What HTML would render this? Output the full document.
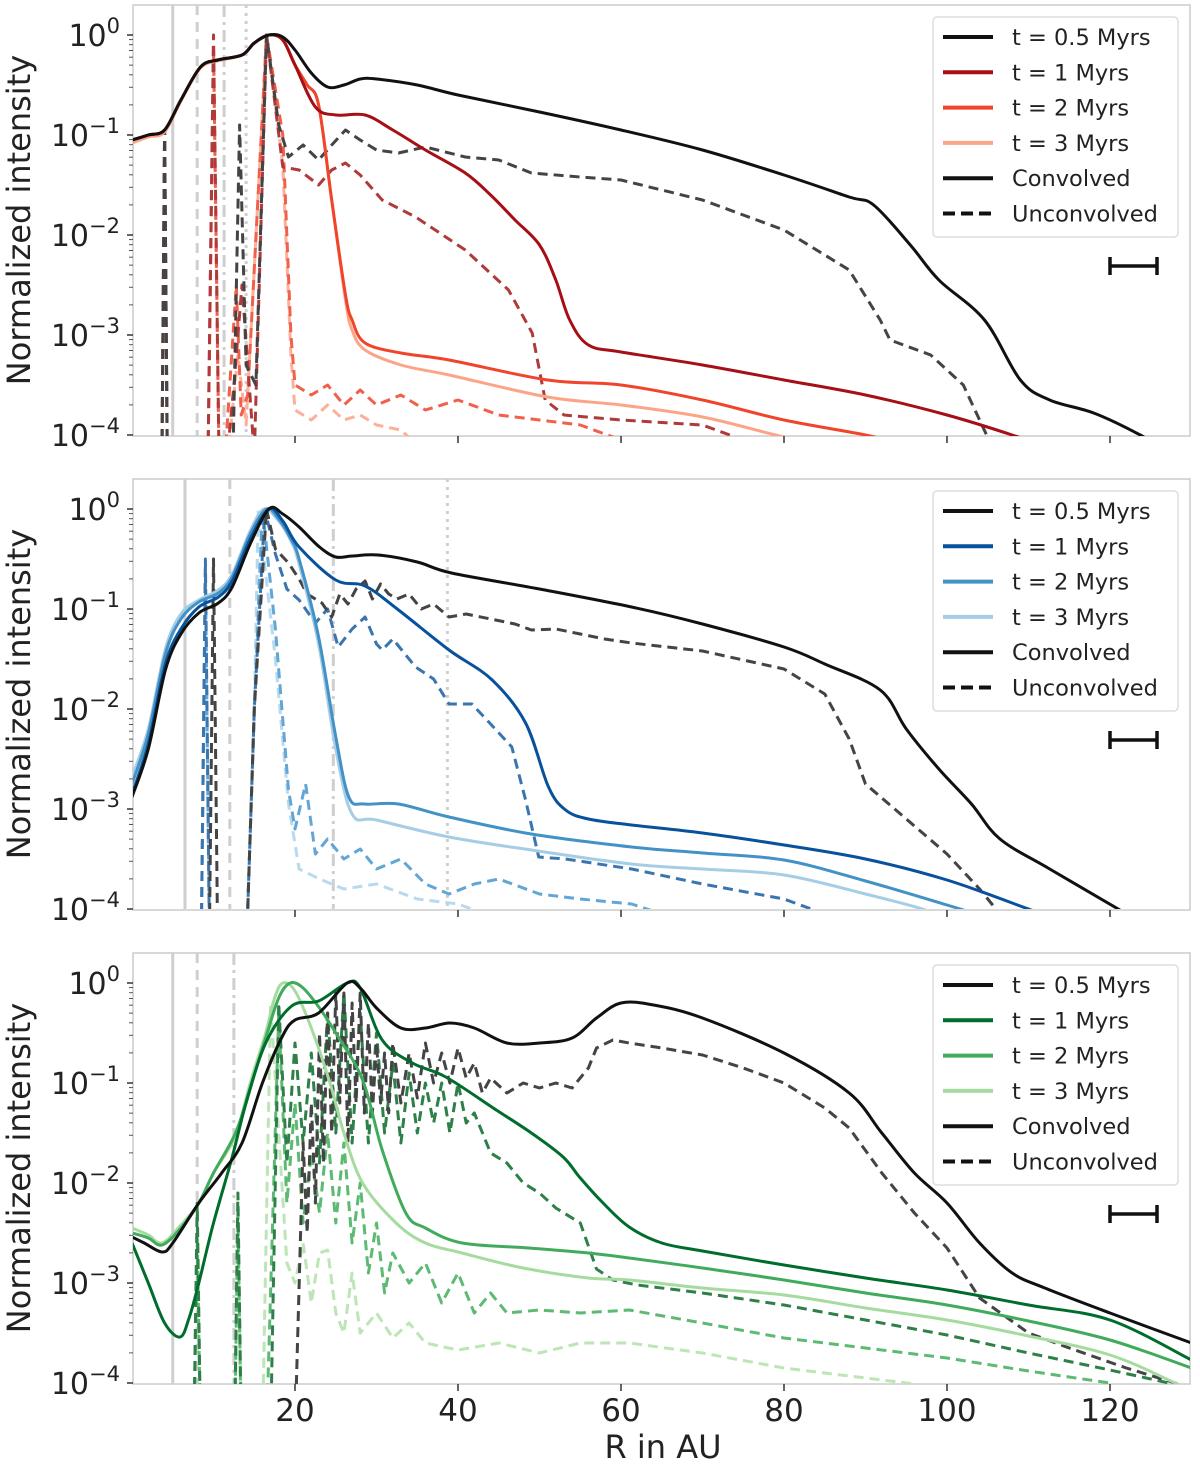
<!DOCTYPE html>
<html><head><meta charset="utf-8">
<style>
html,body{margin:0;padding:0;background:#fff;}
svg text{font-family:"DejaVu Sans","Liberation Sans",sans-serif;fill:#222;}
</style></head>
<body>
<svg id="chart" width="1200" height="1474" viewBox="0 0 1200 1474" xmlns="http://www.w3.org/2000/svg">
<defs>
<clipPath id="c0"><rect x="133" y="5" width="1057" height="431"/></clipPath>
<clipPath id="c1"><rect x="133" y="479" width="1057" height="430"/></clipPath>
<clipPath id="c2"><rect x="133" y="953" width="1057" height="431"/></clipPath>
</defs>
<text x="663" y="1458" font-size="32" text-anchor="middle">R in AU</text>
</svg>
<script>
// ---- Data (R in AU, log10 normalized intensity) ----
const xTicks=[20,40,60,80,100,120];
const yTicks=[0,-1,-2,-3,-4];
const timeLabels=["t = 0.5 Myrs","t = 1 Myrs","t = 2 Myrs","t = 3 Myrs"];
// panel 1 (reds)
const p1c0R=[0,2,4,6,8.4,10.5,13.5,15,16.8,18.5,20,22,24,26,28,30,35,40,50,60,70,80,88,91,95.5,99,104.6,109,112.6,118,123.7,130];
const p1c0V=[-1.05,-1.0,-0.95,-0.65,-0.32,-0.25,-0.2,-0.08,0,-0.02,-0.15,-0.38,-0.52,-0.5,-0.44,-0.44,-0.5,-0.6,-0.77,-0.95,-1.15,-1.4,-1.62,-1.7,-2.1,-2.45,-2.85,-3.45,-3.65,-3.78,-4.0,-4.3];
const p1c1R=[0,2,4,6,8.4,10.5,13.5,15,16.8,18.5,20,22.5,25,28.6,32,36,40.9,44,47,50,52,53.7,56,60,70,80,90,100,108,115];
const p1c1V=[-1.05,-1.0,-0.95,-0.65,-0.32,-0.25,-0.2,-0.08,0,-0.05,-0.3,-0.72,-0.8,-0.8,-0.95,-1.15,-1.38,-1.6,-1.85,-2.1,-2.45,-2.85,-3.1,-3.17,-3.3,-3.45,-3.6,-3.8,-4.0,-4.2];
const p1c2R=[0,2,4,6,8.4,10.5,13.5,15,16.8,18.5,20,21.5,22.9,24.5,26.2,27,28.6,33,38.9,51,60,70,80,90,95];
const p1c2V=[-1.05,-1.0,-0.95,-0.65,-0.32,-0.25,-0.2,-0.08,0,-0.05,-0.3,-0.5,-0.7,-1.65,-2.6,-2.85,-3.08,-3.18,-3.25,-3.45,-3.5,-3.65,-3.85,-4.0,-4.1];
const p1c3R=[0,2,4,6,8.4,10.5,13.5,15,16.8,18.5,20,21.5,22.9,24.5,26.2,27,28.6,33,38.9,51,60,70,80,90,95];
const p1c3V=[-1.08,-1.02,-0.97,-0.66,-0.33,-0.26,-0.2,-0.08,0,-0.05,-0.3,-0.5,-0.7,-1.65,-2.65,-2.95,-3.15,-3.3,-3.4,-3.62,-3.7,-3.82,-4.02,-4.2,-4.3];
const p1d0R=[3.6,4,4.4,12.2,13.2,14,15.2,16.5,18,19.2,21,22.9,24.5,26.2,28,30,32.7,36,40.9,45,49,55,60,70,80,88,91.8,93,98,102,106];
const p1d0V=[-5,-0.95,-5,-5,-0.9,-3.3,-3.5,0,-0.9,-1.22,-1.1,-1.25,-1.1,-0.95,-1.05,-1.15,-1.18,-1.12,-1.22,-1.25,-1.38,-1.42,-1.45,-1.65,-1.95,-2.35,-2.85,-3.05,-3.2,-3.5,-4.2];
const p1d1R=[3.6,4,4.4,9.2,10,10.8,12.5,13.5,15,16.5,18.5,20.5,22.9,24.5,26.2,28,30.7,34.8,40.9,46.2,49.1,50.7,53,60,70,75];
const p1d1V=[-5,-0.95,-5,-5,0,-5,-3.5,-2.5,-4.2,0,-1.32,-1.35,-1.5,-1.35,-1.28,-1.4,-1.65,-1.82,-2.15,-2.55,-2.98,-3.65,-3.8,-3.85,-3.9,-4.05];
const p1d2R=[3.6,4,4.4,9.2,10,10.8,12.8,13.4,14.2,16.5,18.5,19.5,20,22,24,26,28,30,33,36,40,45,50,55,60];
const p1d2V=[-5,-0.95,-5,-5,-0.1,-5,-2.5,-3.8,-3.6,0,-1.0,-3.0,-3.5,-3.6,-3.5,-3.7,-3.55,-3.7,-3.6,-3.75,-3.65,-3.8,-3.85,-3.9,-4.05];
const p1d3R=[3.6,4,4.4,9.2,10,10.8,13,14,16.5,18.5,19.5,20,22,24,26,28,30,33,35];
const p1d3V=[-5,-0.95,-5,-5,-0.1,-5,-3.2,-3.9,0,-1.3,-3.2,-3.75,-3.85,-3.7,-3.85,-3.8,-3.9,-3.95,-4.1];
// panel 2 (blues)
const p2c0R=[0,2,4.1,6,8.2,10.6,12.3,14.5,16.8,18.5,20.5,23,25,27,30.2,35,39.2,50,61.3,70,80,85,91.8,95,99,103,106.5,112.6,121,125];
const p2c0V=[-2.88,-2.4,-1.61,-1.25,-1.04,-0.94,-0.78,-0.35,0,-0.05,-0.18,-0.38,-0.48,-0.47,-0.46,-0.53,-0.64,-0.8,-0.98,-1.15,-1.38,-1.55,-1.81,-2.2,-2.6,-2.95,-3.3,-3.6,-4.0,-4.2];
const p2c1R=[0,2,4.1,6,8.2,10.6,12.3,14.5,16.8,18.5,20.5,25,28.6,32.7,38.9,44.2,48.3,51.1,53.2,56,61.3,70,80,90,100,110,115];
const p2c1V=[-2.85,-2.35,-1.55,-1.2,-0.98,-0.88,-0.72,-0.3,0,-0.12,-0.38,-0.71,-0.77,-1.01,-1.41,-1.71,-2.14,-2.78,-3.01,-3.1,-3.16,-3.24,-3.36,-3.5,-3.71,-4.0,-4.15];
const p2c2R=[0,2,4.1,6,8.2,10.6,12.3,14.5,16.5,18,19.5,20.5,22.9,25,26.6,28.5,32.7,38.9,49,61.3,70,80,90,100,104];
const p2c2V=[-2.75,-2.25,-1.45,-1.1,-0.93,-0.84,-0.68,-0.25,0,-0.1,-0.3,-0.5,-1.28,-2.28,-2.88,-2.95,-2.95,-3.08,-3.25,-3.38,-3.44,-3.51,-3.72,-3.96,-4.06];
const p2c3R=[0,2,4.1,6,8.2,10.6,12.3,14.5,16.2,18,19.5,20.5,22.9,25,27,30,38.9,49,61.3,70,80,90,97,100];
const p2c3V=[-2.68,-2.2,-1.4,-1.05,-0.91,-0.81,-0.65,-0.22,0,-0.12,-0.32,-0.55,-1.35,-2.4,-3.05,-3.11,-3.28,-3.41,-3.55,-3.6,-3.66,-3.85,-4.0,-4.1];
const p2d0R=[9.4,10,10.6,14,15,16.5,17.6,19.2,20.5,21.5,23.3,24.5,25.5,26.5,27.5,28.6,29.5,30.5,31.5,32.5,34,35.5,37,38.9,41,44,47,49,52,55,58,61.3,70,80,85,88,90,95,100,104,107];
const p2d0V=[-5,-0.5,-5,-4.5,-2,0,-0.4,-0.54,-0.7,-0.85,-0.94,-1.08,-0.85,-0.95,-0.8,-0.72,-0.9,-0.75,-0.85,-0.9,-0.85,-1.0,-0.95,-1.08,-1.05,-1.1,-1.15,-1.21,-1.2,-1.25,-1.3,-1.34,-1.42,-1.6,-1.85,-2.3,-2.75,-3.1,-3.45,-3.8,-4.1];
const p2d1R=[8.4,9,9.6,14,15,16.3,17.6,19,20.5,22.5,24,25.3,27,28.6,30,30.7,32,34.8,37,38.9,41.7,44,46.6,48.3,49.9,53.2,61.3,70,80,85];
const p2d1V=[-5,-0.5,-5,-4.5,-2,0,-0.45,-0.8,-0.91,-1.14,-1.0,-1.38,-1.2,-1.08,-1.35,-1.41,-1.3,-1.58,-1.7,-1.95,-1.95,-2.15,-2.38,-2.91,-3.48,-3.5,-3.6,-3.75,-3.9,-4.05];
const p2d2R=[8.4,9,9.6,14,15,16,17.6,19.2,20,21.3,22.5,24,26,28,30,33,36,38.9,42,45,50,55,61.3,65];
const p2d2V=[-5,-0.6,-5,-4.5,-2,0,-1.2,-2.81,-3.2,-2.75,-3.45,-3.3,-3.5,-3.4,-3.6,-3.5,-3.75,-3.85,-3.75,-3.7,-3.85,-3.9,-3.95,-4.05];
const p2d3R=[8.4,9,9.6,14,15,15.5,17.6,19.2,20.5,23,26,30,35,40,45];
const p2d3V=[-5,-0.7,-5,-4.5,-2,0,-1.5,-2.95,-3.6,-3.7,-3.8,-3.75,-3.9,-3.95,-4.1];
// panel 3 (greens)
const p3c0R=[0,1.5,3.7,5,8.2,11,13.5,16,18.4,20,22.9,26.4,28,30,33,36,39,42,46,50,54,57,60,64,70,80,88,92,96,100,104,108,112,120,130];
const p3c0V=[-2.54,-2.6,-2.69,-2.6,-2.2,-1.9,-1.6,-1.0,-0.54,-0.37,-0.3,0,-0.05,-0.25,-0.45,-0.45,-0.4,-0.45,-0.6,-0.6,-0.55,-0.35,-0.2,-0.22,-0.35,-0.7,-1.1,-1.5,-1.9,-2.2,-2.6,-2.9,-3.05,-3.3,-3.6];
const p3c1R=[0,2,4,5.9,7,8.2,10,12.3,14,16.4,19.6,22.9,26.4,28,30.7,34.4,38.5,44.7,49,52.9,55,57.8,61,65,70,80,90,100,110,120,130];
const p3c1V=[-2.6,-3.0,-3.4,-3.54,-3.35,-3.0,-2.4,-1.74,-1.2,-0.6,-0.23,-0.18,0,-0.05,-0.57,-0.8,-0.94,-1.27,-1.5,-1.74,-1.95,-2.2,-2.44,-2.6,-2.68,-2.82,-2.95,-3.07,-3.22,-3.37,-3.77];
const p3c2R=[0,2,3.7,6,8.2,10,12.7,14.5,16.4,18,19.4,21,23,25,28.3,30.7,33.6,36,40.5,48.7,56,61,70,80,90,100,110,120,130];
const p3c2V=[-2.5,-2.55,-2.62,-2.45,-2.2,-1.9,-1.5,-1.05,-0.55,-0.15,0,-0.05,-0.25,-0.5,-0.97,-1.67,-2.3,-2.45,-2.6,-2.65,-2.7,-2.75,-2.85,-2.97,-3.1,-3.22,-3.38,-3.57,-3.85];
const p3c3R=[0,2,3.7,6,8.2,10,12.7,14.5,16.4,17.5,18.5,20,22,24.3,26,28.3,32.4,36,40.5,48,56,61,70,80,90,100,110,120,128,132];
const p3c3V=[-2.45,-2.52,-2.6,-2.42,-2.2,-1.9,-1.53,-1.0,-0.5,-0.15,0,-0.08,-0.45,-1.0,-1.5,-2.0,-2.4,-2.6,-2.7,-2.85,-2.95,-2.97,-3.05,-3.12,-3.25,-3.37,-3.53,-3.72,-4.0,-4.15];
const p3d0R=[20,21,21.5,22,22.5,23,23.5,24,24.5,25,25.5,26,26.5,27,27.5,28,28.5,29,29.5,30,30.5,31,31.5,32,33,34,35,36,37,38,39,40,41,42,43,44,46,48,50,52,54,56,57,59,61,65,70,75,80,85,88,92,96,100,104,110,115,122,130];
const p3d0V=[-4.5,-1.6,-2.5,-1.2,-2.2,-0.5,-1.8,-0.3,-1.5,-0.1,-1.2,-0.1,-1.6,-0.2,-1.2,-0.1,-1.3,-0.4,-1.3,-0.6,-1.2,-0.7,-1.3,-0.6,-1.2,-0.7,-1.15,-0.6,-1.0,-0.7,-1.0,-0.65,-0.95,-0.8,-1.1,-0.95,-1.1,-1.0,-1.05,-1.0,-1.05,-0.85,-0.65,-0.57,-0.6,-0.65,-0.72,-0.85,-1.0,-1.25,-1.45,-1.9,-2.3,-2.65,-3.15,-3.5,-3.65,-3.85,-4.05];
const p3d1R=[7.5,8,8.5,12.5,13,13.5,17,18,19,20,21,22,23,24,25,26,27,28,29,30,31,32,33,34,35,36,37,38,39,40,41,42,44,46,48,50,52,55,57,59,62,70,80,90,100,110,120,130];
const p3d1V=[-5,-2.2,-5,-5,-2.1,-5,-4.5,-0.2,-1.8,-0.6,-1.6,-0.7,-1.8,-0.3,-1.5,-0.1,-1.6,-0.3,-1.6,-0.5,-1.5,-0.8,-1.6,-0.9,-1.5,-1.0,-1.4,-1.0,-1.5,-1.0,-1.4,-1.3,-1.7,-1.8,-2.0,-2.1,-2.25,-2.4,-2.86,-2.97,-3.02,-3.1,-3.22,-3.37,-3.52,-3.7,-3.87,-4.05];
const p3d2R=[7.5,8,8.5,12.5,13,13.5,16.5,18,19,20,21,22,23,24,25,26,27,28,29,30,31,32,34,36,38,40,42,44,46,50,55,61,70,80,90,100,110,120];
const p3d2V=[-5,-2.5,-5,-5,-2.3,-5,-4.5,-0.3,-2.2,-1.2,-2.4,-1.7,-2.3,-1.5,-2.4,-1.6,-2.6,-2.0,-2.9,-2.4,-3.1,-2.7,-3.0,-2.8,-3.2,-2.9,-3.3,-3.1,-3.3,-3.27,-3.3,-3.27,-3.4,-3.55,-3.65,-3.75,-3.88,-4.0];
const p3d3R=[7.5,8,8.5,12.5,13,13.5,16,17,18,19,20,21,22,23,24,25,26,27,28,30,32,34,36,40,45,50,55,61,70,80,90,100,110];
const p3d3V=[-5,-2.6,-5,-5,-2.4,-5,-4.5,-0.2,-1.5,-2.8,-3.0,-2.6,-3.2,-2.7,-2.67,-3.3,-3.5,-2.9,-3.5,-3.3,-3.55,-3.4,-3.6,-3.67,-3.6,-3.7,-3.6,-3.6,-3.7,-3.85,-3.95,-4.05,-4.2];

const panels=[
 {top:5,zero:35,clip:'c0',name:'top-panel',cols:['#111111','#a50f15','#f0452a','#fca487'],dcols:['#444444','#b03a3a','#f0604a','#fcb09a'],
  solid:[[p1c0R,p1c0V],[p1c1R,p1c1V],[p1c2R,p1c2V],[p1c3R,p1c3V]],dash:[[p1d0R,p1d0V],[p1d1R,p1d1V],[p1d2R,p1d2V],[p1d3R,p1d3V]],
  vlines:[[5,''],[8,'10,7'],[11.3,'12,5,3,5'],[14,'3,5']]},
 {top:479,zero:509,clip:'c1',name:'middle-panel',cols:['#111111','#08519c','#4292c6','#a6cde6'],dcols:['#444444','#3a75b0','#62a6d6','#b9d9ee'],
  solid:[[p2c0R,p2c0V],[p2c1R,p2c1V],[p2c2R,p2c2V],[p2c3R,p2c3V]],dash:[[p2d0R,p2d0V],[p2d1R,p2d1V],[p2d2R,p2d2V],[p2d3R,p2d3V]],
  vlines:[[6.5,''],[12,'10,7'],[24.7,'12,5,3,5'],[38.7,'3,5']]},
 {top:953,zero:983,clip:'c2',name:'bottom-panel',cols:['#111111','#006d2c','#41ab5d','#a6dba0'],dcols:['#444444','#2e8048','#5cba72','#bde5b6'],
  solid:[[p3c0R,p3c0V],[p3c1R,p3c1V],[p3c2R,p3c2V],[p3c3R,p3c3V]],dash:[[p3d0R,p3d0V],[p3d1R,p3d1V],[p3d2R,p3d2V],[p3d3R,p3d3V]],
  vlines:[[5,''],[8,'10,7'],[12.5,'12,5,3,5']]}
];
const NS='http://www.w3.org/2000/svg';
const svg=document.getElementById('chart');
function xs(r){return 132+8.15*r;}
function mk(tag,attrs,parent){const e=document.createElementNS(NS,tag);for(const k in attrs)e.setAttribute(k,attrs[k]);(parent||svg).appendChild(e);return e;}
function smoothPath(pts){
  let d='M'+pts[0][0].toFixed(1)+','+pts[0][1].toFixed(1);
  for(let i=0;i<pts.length-1;i++){
    const p0=pts[i-1]||pts[i],p1=pts[i],p2=pts[i+1],p3=pts[i+2]||p2;
    const c1=[p1[0]+(p2[0]-p0[0])/6,p1[1]+(p2[1]-p0[1])/6];
    const c2=[p2[0]-(p3[0]-p1[0])/6,p2[1]-(p3[1]-p1[1])/6];
    d+='C'+c1[0].toFixed(1)+','+c1[1].toFixed(1)+' '+c2[0].toFixed(1)+','+c2[1].toFixed(1)+' '+p2[0].toFixed(1)+','+p2[1].toFixed(1);
  }
  return d;
}
panels.forEach((p,pi)=>{
  const ys=v=>p.zero-100*v;
  const bottom=p.top+431;
  const g=mk('g',{});
  
  
  const frame=mk('rect',{x:133,y:p.top,width:1057,height:431,fill:'none',stroke:'#cccccc','stroke-width':1.5},g);
  
  
  yTicks.forEach(t=>{
    const y=ys(t);
    mk('line',{x1:127,x2:133,y1:y,y2:y,stroke:'#333','stroke-width':1.5},g);
    const tx=mk('text',{x:120,y:y+11,'font-size':30,'text-anchor':'end'},g);
    tx.innerHTML='10<tspan dy="-13" font-size="21">'+(t===0?'0':'\u2212'+(-t))+'</tspan>';
    
    
    if(t>-4){for(let k=2;k<10;k++){const my=ys(t-1+Math.log10(k));mk('line',{x1:129,x2:133,y1:my,y2:my,stroke:'#555','stroke-width':1},g);}}
  });
  for(let k=2;k<10;k++){const my=ys(Math.log10(k));if(my>p.top)mk('line',{x1:129,x2:133,y1:my,y2:my,stroke:'#555','stroke-width':1},g);}
  xTicks.forEach(t=>{mk('line',{x1:xs(t),x2:xs(t),y1:bottom,y2:bottom+7,stroke:'#333','stroke-width':1.5},g);});
  const yt=mk('text',{x:0,y:0,'font-size':32,'text-anchor':'middle',transform:'translate(30,'+(p.top+215)+') rotate(-90)'},g);
  yt.textContent='Normalized intensity';
  
  
  const cg=mk('g',{'clip-path':'url(#'+p.clip+')'},g);
  p.vlines.forEach(v=>{
    const l=mk('line',{x1:xs(v[0]),x2:xs(v[0]),y1:p.top,y2:bottom,stroke:'#cfcfcf','stroke-width':3,'stroke-dasharray':v[1]},cg);
    
    
  });
  const path=(R,V)=>R.map((r,i)=>(i?'L':'M')+xs(r).toFixed(1)+','+ys(V[i]).toFixed(1)).join('');
  for(let i=3;i>=0;i--){
    const d=mk('path',{d:path(p.dash[i][0],p.dash[i][1]),fill:'none',stroke:p.dcols[i],'stroke-width':3,'stroke-dasharray':'10,6','stroke-linejoin':'round'},cg);
    
    
  }
  for(let i=3;i>=0;i--){
    const pts=p.solid[i][0].map((r,k)=>[xs(r),ys(p.solid[i][1][k])]);
    const s=mk('path',{d:smoothPath(pts),fill:'none',stroke:p.cols[i],'stroke-width':3,'stroke-linejoin':'round'},cg);
    
    
  }
  const lt=p.top+12;
  const lg=mk('g',{},g);
  
  
  mk('rect',{x:933,y:lt,width:245,height:220,rx:4,fill:'#fff','fill-opacity':0.85,stroke:'#dddddd','stroke-width':1.5},lg);
  const labels=timeLabels.concat(['Convolved','Unconvolved']);
  const lcols=p.cols.concat(['#111','#111']);
  labels.forEach((lab,i)=>{
    const y=lt+20+i*35.3;
    mk('line',{x1:943,x2:993,y1:y,y2:y,stroke:lcols[i],'stroke-width':4,'stroke-dasharray':i===5?'12,6':''},lg);
    const t=mk('text',{x:1012,y:y+8,'font-size':22.5},lg);
    t.textContent=lab;
    
    
  });
  const sb=mk('g',{stroke:'#111','stroke-width':3.5},g);
  
  
  const sy=p.top+261;
  mk('line',{x1:1110,x2:1157,y1:sy,y2:sy},sb);
  mk('line',{x1:1110,x2:1110,y1:sy-9,y2:sy+9},sb);
  mk('line',{x1:1157,x2:1157,y1:sy-9,y2:sy+9},sb);
  if(pi===2){
    xTicks.forEach(t=>{const tx=mk('text',{x:xs(t),y:1421,'font-size':31,'text-anchor':'middle'},g);tx.textContent=t;
      
      });
  }
});
</script>
</body></html>
